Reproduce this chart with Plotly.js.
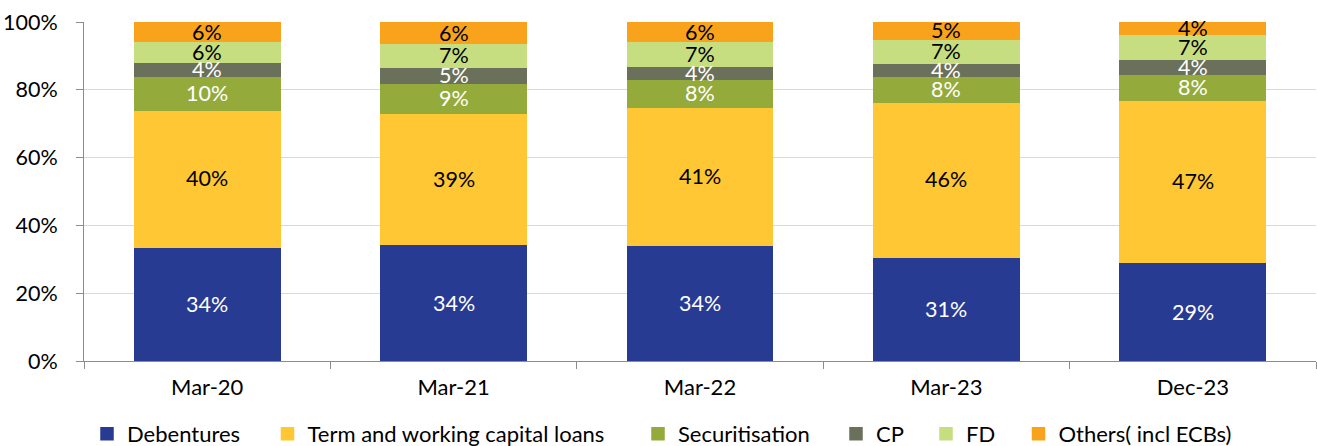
<!DOCTYPE html>
<html>
<head>
<meta charset="utf-8">
<script src="https://cdn.plot.ly/plotly-3.0.1.min.js"></script>
<style>
  html, body { margin: 0; padding: 0; background: #fff; }
  #chart { width: 1317px; height: 446px; }
</style>
</head>
<body>
<div id="chart"></div>
<script>
const categories = ['Mar-20', 'Mar-21', 'Mar-22', 'Mar-23', 'Dec-23'];

// Share of borrowings (%)
const debentures     = [33.6, 34.4, 34.0, 30.7, 29.2];
const termLoans      = [40.5, 38.6, 40.9, 45.7, 47.7];
const securitisation = [9.8, 8.9, 8.2, 7.6, 7.7];
const cp             = [4.2, 4.8, 3.8, 3.8, 4.4];
const fd             = [6.2, 7.1, 7.4, 7.2, 7.4];
const others         = [5.7, 6.2, 5.7, 5.0, 3.6];

// Data labels as printed on the chart
const debLabels  = ['34%', '34%', '34%', '31%', '29%'];
const termLabels = ['40%', '39%', '41%', '46%', '47%'];
const secLabels  = ['10%', '9%', '8%', '8%', '8%'];
const cpLabels   = ['4%', '5%', '4%', '4%', '4%'];
const fdLabels   = ['6%', '7%', '7%', '7%', '7%'];
const othLabels  = ['6%', '6%', '6%', '5%', '4%'];

const seriesNames = ['Debentures', 'Term and working capital loans', 'Securitisation', 'CP', 'FD', 'Others( incl ECBs)'];
const yTickVals = [0, 20, 40, 60, 80, 100];
const yTickText = ['0%', '20%', '40%', '60%', '80%', '100%'];

const FONT = 'Lato, Carlito, Calibri, "Noto Sans", sans-serif';

const series = [
  { name: seriesNames[0], y: debentures,     labels: debLabels,  color: '#283B93', txt: '#ffffff' },
  { name: seriesNames[1], y: termLoans,      labels: termLabels, color: '#FFC733', txt: '#000000' },
  { name: seriesNames[2], y: securitisation, labels: secLabels,  color: '#94AB3C', txt: '#ffffff' },
  { name: seriesNames[3], y: cp,             labels: cpLabels,   color: '#6B705B', txt: '#ffffff' },
  { name: seriesNames[4], y: fd,             labels: fdLabels,   color: '#C6DE7F', txt: '#000000' },
  { name: seriesNames[5], y: others,         labels: othLabels,  color: '#F8A31B', txt: '#000000' }
];

// legend square centre positions (px in the 1317-wide figure)
const legendSquareX = [112, 292.5, 663, 861, 951, 1043.5];
const legendCenterY = 434;

const data = [];
const annotations = [];
const layout = {
  width: 1317,
  height: 446,
  margin: { l: 84, r: 1, t: 22, b: 85 },
  paper_bgcolor: '#ffffff',
  plot_bgcolor: '#ffffff',
  barmode: 'stack',
  bargap: 0.41,
  font: { family: FONT, size: 21.5, color: '#000000' },
  showlegend: true,
  xaxis: {
    type: 'category',
    showline: true,
    linecolor: '#8C8C8C',
    linewidth: 1,
    ticks: 'outside',
    tickson: 'boundaries',
    ticklen: 7,
    tickcolor: '#8C8C8C',
    showgrid: false,
    tickfont: { family: FONT, size: 22, color: '#000000' },
    ticklabelstandoff: 7,
    fixedrange: true
  },
  yaxis: {
    range: [0, 100],
    tickvals: yTickVals,
    ticktext: yTickText,
    showline: true,
    linecolor: '#8C8C8C',
    linewidth: 1,
    ticks: 'outside',
    ticklen: 7,
    tickcolor: '#8C8C8C',
    showgrid: true,
    gridcolor: '#D9D9D9',
    gridwidth: 1,
    zeroline: false,
    tickfont: { family: FONT, size: 21.5, color: '#000000' },
    ticklabelstandoff: 14,
    fixedrange: true
  },
  annotations: annotations
};

const base = categories.map(() => 0);
series.forEach((s, i) => {
  const legName = i === 0 ? 'legend' : 'legend' + (i + 1);
  data.push({
    type: 'bar',
    name: s.name,
    x: categories,
    y: s.y,
    marker: { color: s.color, line: { width: 1.5, color: s.color } },
    hoverinfo: 'skip',
    legend: legName
  });
  layout[legName] = {
    orientation: 'h',
    xref: 'container',
    x: (legendSquareX[i] - 25) / 1317,
    xanchor: 'left',
    yref: 'container',
    y: (446 - legendCenterY) / 446,
    yanchor: 'middle',
    font: { family: FONT, size: 22, color: '#000000' },
    itemwidth: 30,
    bgcolor: 'rgba(0,0,0,0)'
  };
  s.y.forEach((v, j) => {
    annotations.push({
      xref: 'x', yref: 'y',
      x: categories[j],
      y: base[j] + v / 2,
      text: s.labels[j],
      showarrow: false,
      xanchor: 'center',
      yanchor: 'middle',
      font: { family: FONT, size: 21.5, color: s.txt }
    });
    base[j] += v;
  });
});

Plotly.newPlot('chart', data, layout, { displayModeBar: false, staticPlot: true });
</script>
</body>
</html>
